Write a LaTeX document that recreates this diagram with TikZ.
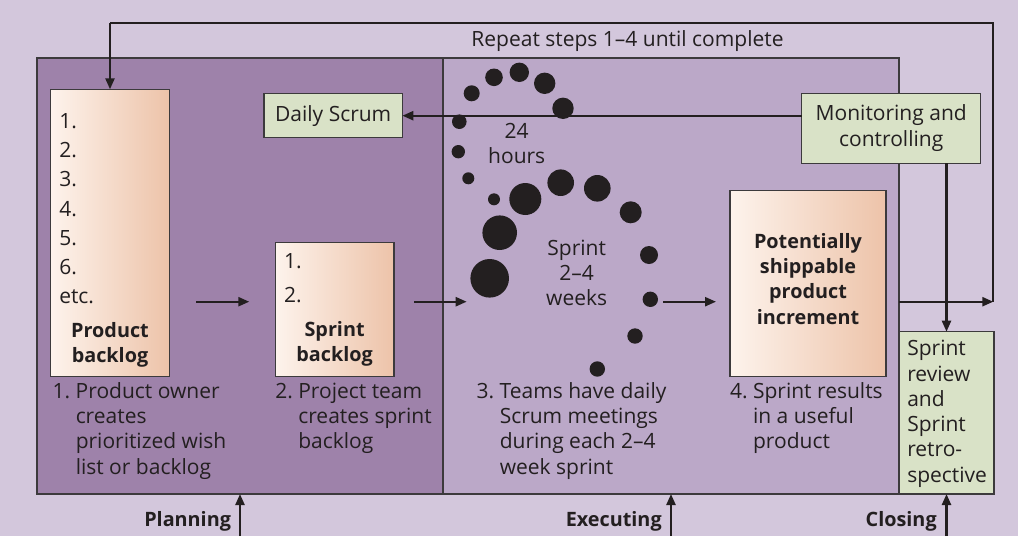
\documentclass[tikz,border=0pt]{standalone}
\usepackage{fontspec}
\setmainfont{Open Sans}
\usetikzlibrary{arrows.meta}
\definecolor{bgc}{HTML}{D3C7DC}
\definecolor{planc}{HTML}{9E82AA}
\definecolor{execc}{HTML}{BBA8C8}
\definecolor{greenc}{HTML}{D9E2C7}
\definecolor{peachL}{HTML}{FDF3EC}
\definecolor{peachR}{HTML}{EDC3A9}
\definecolor{inkc}{HTML}{231F20}
\definecolor{borderc}{HTML}{3C3A3C}
\newcommand{\llines}[1]{\begin{tabular}[t]{@{}l@{}}#1\end{tabular}}
\newcommand{\clines}[1]{\begin{tabular}[t]{@{}c@{}}#1\end{tabular}}
\begin{document}
\begin{tikzpicture}[x=1pt,y=-1pt,
  every node/.style={font=\fontsize{21}{25.3}\selectfont, text=inkc, inner sep=0pt, outer sep=0pt},
  boldtxt/.style={font=\fontsize{19.8}{25.2}\selectfont\bfseries},
  panel/.style={draw=borderc, line width=1.4pt, anchor=north west},
  greenbox/.style={draw=borderc, fill=greenc, line width=1.3pt},
  peachbox/.style={draw=borderc, line width=1.3pt, left color=peachL, right color=peachR, anchor=north west},
  arr/.style={draw=inkc, line width=2.3pt, -{Triangle[length=11pt,width=9pt]}},
  ln/.style={draw=inkc, line width=2.3pt},
  dot/.style={fill=inkc, circle, inner sep=0pt}
]
\useasboundingbox (0,0) rectangle (1018,536);
\fill[bgc] (0,0) rectangle (1018,536);

% panels
\node[panel, fill=planc, minimum width=406pt, minimum height=436pt] (plan) at (37,58) {};
\node[panel, fill=execc, minimum width=456pt, minimum height=436pt] (exec) at (443,58) {};
\node[panel, fill=greenc, line width=1.3pt, minimum width=95pt, minimum height=162.3pt] (sr) at (899,331.7) {};

% boxes
\node[peachbox, minimum width=118.6pt, minimum height=287.4pt] (pb) at (50.7,89.3) {};
\node[peachbox, minimum width=118.7pt, minimum height=134pt] (sb) at (275.3,242.7) {};
\node[peachbox, minimum width=156pt, minimum height=186pt] (ps) at (730,190.7) {};
\node[greenbox, minimum width=138.3pt, minimum height=44pt] (ds) at (333.2,115.7) {Daily Scrum};
\node[greenbox, minimum width=179pt, minimum height=70pt] (mon) at (891.2,128.3) {\clines{Monitoring and\\controlling}};

% box texts
\node[anchor=base west, font=\fontsize{21}{29.1}\selectfont] (pblist) at (59.3,128.7) {\llines{1.\\2.\\3.\\4.\\5.\\6.\\etc.}};
\node[anchor=base, boldtxt] (pbt) at (110,337.5) {\clines{Product\\backlog}};
\node[anchor=base west, font=\fontsize{21}{34.4}\selectfont] (sblist) at (284,268.3) {\llines{1.\\2.}};
\node[anchor=base, boldtxt, font=\fontsize{19.8}{25.5}\selectfont\bfseries] (sbt) at (334.6,336) {\clines{Sprint\\backlog}};
\node[anchor=base, boldtxt] (pst) at (808,248.5) {\clines{Potentially\\shippable\\product\\increment}};
\node[anchor=base west] (srt) at (907.3,355.7) {\llines{Sprint\\review\\and\\Sprint\\retro-\\spective}};

% captions
\node[anchor=base west] (c1) at (52.7,398.3) {\llines{1.~Product owner\\\hphantom{1.~}creates\\\hphantom{1.~}prioritized wish\\\hphantom{1.~}list or backlog}};
\node[anchor=base west] (c2) at (275.3,398.3) {\llines{2.~Project team\\\hphantom{2.~}creates sprint\\\hphantom{2.~}backlog}};
\node[anchor=base west] (c3) at (476.7,398.3) {\llines{3.~Teams have daily\\\hphantom{3.~}Scrum meetings\\\hphantom{3.~}during each 2–4\\\hphantom{3.~}week sprint}};
\node[anchor=base west] (c4) at (730,398.3) {\llines{4.~Sprint results\\\hphantom{4.~}in a useful\\\hphantom{4.~}product}};

% repeat label
\node[anchor=base] (rep) at (627.5,46.7) {Repeat steps 1–4 until complete};

% connectors
\coordinate (ay) at (0,301.7);
\coordinate (loopR) at (993.3,301.7);
\coordinate (topY) at (0,23.3);
\coordinate (dotsIn) at (466.7,301.7);
\coordinate (dotsOut) at (663.3,301.7);
\draw[arr] (exec.east |- ay) -- (loopR);
\draw[ln, line join=miter] (loopR) -- (loopR |- topY) -- (pb.north |- topY);
\draw[arr] (pb.north |- topY) -- (pb.north);
\draw[arr] (mon.west |- ds.east) -- (ds.east);
\draw[arr] (mon.south -| sr.north) -- (sr.north);
\draw[arr, shorten <=26.7pt, shorten >=26pt] (pb.east |- ay) -- (sb.west |- ay);
\draw[arr, shorten <=20.3pt] (sb.east |- ay) -- (dotsIn);
\draw[arr, shorten >=14pt] (dotsOut) -- (ps.west |- ay);

% dots: 24 hours cycle
\foreach \n/\px/\py/\r in {d1/471.7/93.3/8, d2/494/77.3/8.8, d3/519.3/72.3/9.7, d4/544.7/83.3/10.7, d5/563/108.3/10.7, d6/459.3/121.7/7.3, d7/458.3/151.7/6.7, d8/468.3/178.3/6}
  \node[dot, minimum size=2*\r pt] (\n) at (\px,\py) {};
% dots: sprint cycle
\foreach \n/\px/\py/\r in {e1/494/199.3/6, e2/525.3/199/16, e3/560.7/182.7/13.3, e4/597.3/188.3/13.3, e5/630.7/212.3/11, e6/649/255/9, e7/650.3/299.3/7.7, e8/635/336/7.7, e9/597.3/369/7.7, e10/499.7/232.7/17.3, e11/489.7/278.3/19.3}
  \node[dot, minimum size=2*\r pt] (\n) at (\px,\py) {};

\node[anchor=base] (hrs) at (516.7,138.3) {\clines{24\\hours}};
\node[anchor=base] (spr) at (576.7,255) {\clines{Sprint\\2–4\\weeks}};

% bottom labels
\coordinate (bot) at (0,536);
\draw[arr] (plan.south |- bot) -- (plan.south);
\draw[arr] (exec.south |- bot) -- (exec.south);
\draw[arr] (sr.south |- bot) -- (sr.south);
\node[anchor=base east, boldtxt] (lp) at (231,526.7) {Planning};
\node[anchor=base east, boldtxt] (le) at (661.7,526.7) {Executing};
\node[anchor=base east, boldtxt] (lc) at (936.7,526.7) {Closing};
\end{tikzpicture}
\end{document}
